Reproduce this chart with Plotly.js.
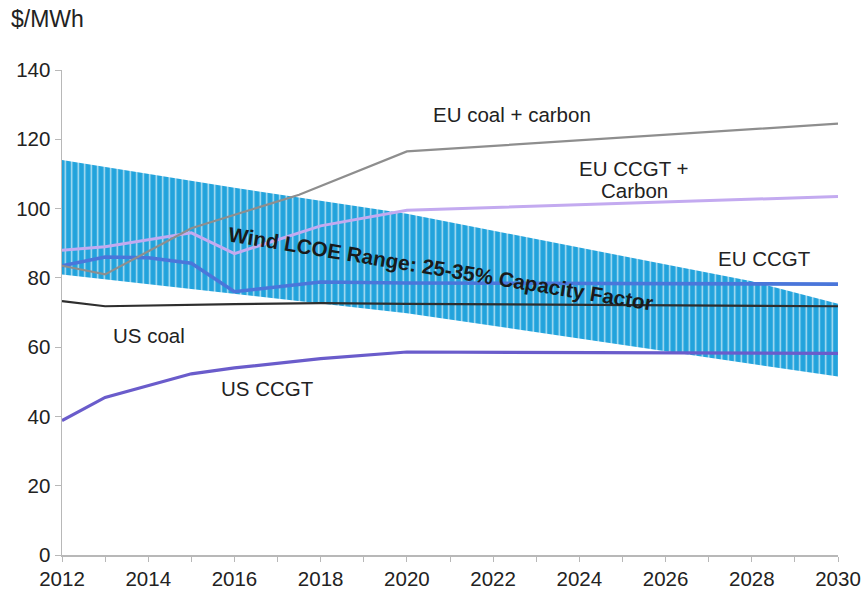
<!DOCTYPE html>
<html>
<head>
<meta charset="utf-8">
<script src="https://cdn.plot.ly/plotly-3.0.1.min.js"></script>
<style>html,body{margin:0;padding:0;background:#fff;}#chart{width:865px;height:592px;}</style>
</head>
<body>
<div id="chart"></div>
<script>
// Wind LCOE band
const bandYears = [2012, 2016, 2020, 2028, 2030];
const bandUpper = [114, 106, 98.5, 79, 72.5];
const bandLowerYears = [2012, 2016, 2020, 2030];
const bandLower = [81, 75.5, 69.8, 51.5];

// Series
const euCoalYears = [2012, 2013, 2015, 2017.5, 2020, 2030];
const euCoal = [83.5, 81, 94.3, 104, 116.5, 124.5];

const euCcgtCarbonYears = [2012, 2013, 2015, 2016, 2018, 2020, 2030];
const euCcgtCarbon = [88, 89, 93, 87, 95, 99.5, 103.5];

const euCcgtYears = [2012, 2013, 2014, 2015, 2016, 2017, 2018, 2020, 2030];
const euCcgt = [83.5, 86, 85.8, 84.2, 76, 77.5, 78.8, 78.5, 78.2];

const usCoalYears = [2012, 2013, 2016, 2018, 2020, 2030];
const usCoal = [73.3, 71.8, 72.4, 72.7, 72.5, 71.8];

const usCcgtYears = [2012, 2013, 2015, 2016, 2018, 2020, 2030];
const usCcgt = [38.8, 45.5, 52.3, 54, 56.7, 58.6, 58.2];

const xTickVals = [2012, 2014, 2016, 2018, 2020, 2022, 2024, 2026, 2028, 2030];
const yTickVals = [0, 20, 40, 60, 80, 100, 120, 140];

const band = {
  lower: {x: bandLowerYears, y: bandLower, mode: 'lines', line: {width: 0, color: 'rgba(0,0,0,0)'}, hoverinfo: 'skip', showlegend: false},
  upper: {x: bandYears, y: bandUpper, mode: 'lines', line: {width: 0, color: 'rgba(0,0,0,0)'}, fill: 'tonexty',
    fillcolor: '#22a3dc',
    fillpattern: {shape: '|', bgcolor: '#22a3dc', fgcolor: '#b9e2f4', size: 6.5, solidity: 0.22},
    hoverinfo: 'skip', showlegend: false}
};

const traces = [
  band.lower, band.upper,
  {x: usCoalYears, y: usCoal, mode: 'lines', line: {color: '#2e2e2e', width: 2.2}, showlegend: false},
  {x: usCcgtYears, y: usCcgt, mode: 'lines', line: {color: '#6a5ccb', width: 3.2}, showlegend: false},
  {x: euCcgtCarbonYears, y: euCcgtCarbon, mode: 'lines', line: {color: '#c3aaf0', width: 3}, showlegend: false},
  {x: euCcgtYears, y: euCcgt, mode: 'lines', line: {color: '#4a76da', width: 3.6}, showlegend: false},
  {x: euCoalYears, y: euCoal, mode: 'lines', line: {color: '#8e8e8e', width: 2.2}, showlegend: false}
];

const fam = 'Liberation Sans, Arial, sans-serif';
const txt = {family: fam, size: 20.5, color: '#222'};
const tickFont = {family: fam, size: 20.5, color: '#222'};

const layout = {
  width: 865, height: 592,
  margin: {l: 62, r: 27, t: 70, b: 37},
  paper_bgcolor: '#fff', plot_bgcolor: '#fff',
  showlegend: false,
  font: txt,
  xaxis: {
    range: [2012, 2030], tickvals: xTickVals, ticktext: xTickVals.map(String),
    showgrid: false, zeroline: false, showline: true, linecolor: '#b8b8b8', linewidth: 1.5,
    ticks: 'outside', ticklen: 5, tickcolor: '#b8b8b8',
    minor: {dtick: 1, ticks: 'outside', ticklen: 5, tickcolor: '#b8b8b8', showgrid: false},
    tickfont: tickFont
  },
  yaxis: {
    range: [0, 140], tickvals: yTickVals,
    showgrid: false, zeroline: false, showline: true, linecolor: '#b8b8b8', linewidth: 1.5,
    ticks: 'outside', ticklen: 6, tickcolor: '#b8b8b8',
    tickfont: tickFont
  },
  annotations: [
    {xref: 'paper', yref: 'paper', x: -0.068, y: 1.105, xanchor: 'left', yanchor: 'middle', text: '$/MWh', showarrow: false, font: {family: fam, size: 23, color: '#222'}},
    {x: 2022.44, y: 127.2, text: 'EU coal + carbon', showarrow: false, font: txt},
    {x: 2025.27, y: 111.7, text: 'EU CCGT +', showarrow: false, font: txt},
    {x: 2025.27, y: 105.3, text: 'Carbon', showarrow: false, font: txt},
    {x: 2028.29, y: 85.7, text: 'EU CCGT', showarrow: false, font: txt},
    {x: 2014.02, y: 63.5, text: 'US coal', showarrow: false, font: txt},
    {x: 2016.76, y: 48.2, text: 'US CCGT', showarrow: false, font: txt},
    {x: 2020.78, y: 82.8, text: '<b>Wind LCOE Range: 25-35% Capacity Factor</b>', showarrow: false, textangle: 9.3,
      font: {family: fam, size: 20.8, color: '#1a1a1a'}}
  ]
};

Plotly.newPlot('chart', traces, layout, {staticPlot: true, displayModeBar: false});
</script>
</body>
</html>
